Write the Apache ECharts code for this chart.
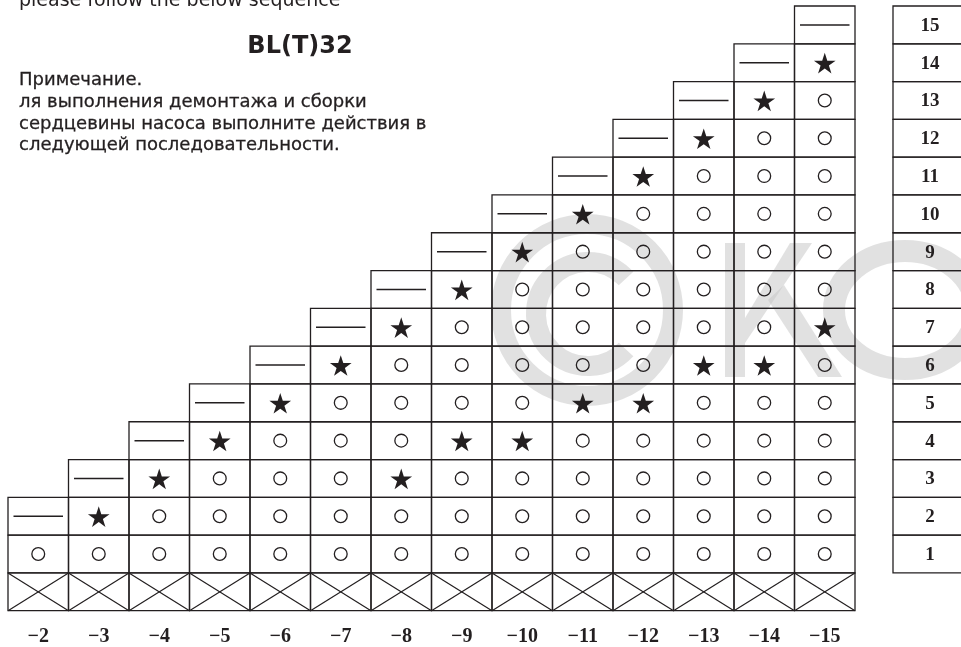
<!DOCTYPE html>
<html>
<head>
<meta charset="utf-8">
<script src="https://cdn.jsdelivr.net/npm/echarts@6/dist/echarts.min.js"></script>
<style>html,body{margin:0;padding:0;background:#fff}#c{width:961px;height:647px}</style>
</head>
<body>
<div id="c"></div>
<script>
// ---- data ----
const columns = ['−2','−3','−4','−5','−6','−7','−8','−9','−10','−11','−12','−13','−14','−15'];
// marks per column, listed from row 1 upward: o = circle, * = star, - = dash
const columnMarks = [
  'o-',
  'o*-',
  'oo*-',
  'ooo*-',
  'oooo*-',
  'ooooo*-',
  'oo*ooo*-',
  'ooo*ooo*-',
  'ooo*oooo*-',
  'oooo*oooo*-',
  'oooo*ooooo*-',
  'ooooo*ooooo*-',
  'ooooo*oooooo*-',
  'oooooo*oooooo*-'
];
const rowLabels = ['1','2','3','4','5','6','7','8','9','10','11','12','13','14','15'];
const headerText = 'please follow the below sequence';
const titleText = 'BL(T)32';
const noteLines = [
  'Примечание.',
  'ля выполнения демонтажа и сборки',
  'сердцевины насоса выполните действия в',
  'следующей последовательности.'
];
const watermarkText = '©KO';

// ---- build series data ----
const cellData = [];
columns.forEach(function (c, i) {
  cellData.push([i, 0, 'x']);
  columnMarks[i].split('').forEach(function (m, j) { cellData.push([i, j + 1, m]); });
});
const labelData = rowLabels.map(function (l, j) { return [0, j + 1, l]; });

const INK = '#231f20';

function starPoints(cx, cy, R) {
  const r = R * 0.382, pts = [];
  for (let k = 0; k < 10; k++) {
    const a = -Math.PI / 2 + k * Math.PI / 5;
    const rad = (k % 2) ? r : R;
    pts.push([cx + rad * Math.cos(a), cy + rad * Math.sin(a)]);
  }
  return pts;
}

function renderCell(params, api) {
  const d = cellData[params.dataIndex];
  const c = api.coord([d[0], d[1]]);
  const s = api.size([1, 1]);
  const w = s[0], h = s[1];
  const x0 = c[0] - w / 2, y0 = c[1] - h / 2;
  const ch = [{
    type: 'rect', shape: { x: x0, y: y0, width: w, height: h },
    style: { fill: null, stroke: INK, lineWidth: 1.3 }
  }];
  const m = d[2];
  if (m === 'x') {
    ch.push({ type: 'line', shape: { x1: x0, y1: y0, x2: x0 + w, y2: y0 + h }, style: { stroke: INK, lineWidth: 1.2 } });
    ch.push({ type: 'line', shape: { x1: x0 + w, y1: y0, x2: x0, y2: y0 + h }, style: { stroke: INK, lineWidth: 1.2 } });
  } else if (m === 'o') {
    ch.push({ type: 'circle', shape: { cx: c[0], cy: c[1], r: 6.4 }, style: { fill: null, stroke: INK, lineWidth: 1.3 } });
  } else if (m === '*') {
    ch.push({ type: 'polygon', shape: { points: starPoints(c[0], c[1] + 1.5, 11.4) }, style: { fill: INK } });
  } else if (m === '-') {
    ch.push({ type: 'line', shape: { x1: x0 + 5.5, y1: c[1], x2: x0 + w - 5.5, y2: c[1] }, style: { stroke: INK, lineWidth: 1.5 } });
  }
  return { type: 'group', children: ch };
}

function renderLabel(params, api) {
  const d = labelData[params.dataIndex];
  const c = api.coord([d[0], d[1]]);
  const s = api.size([1, 1]);
  const w = s[0], h = s[1];
  const x0 = c[0] - w / 2;
  return {
    type: 'group',
    children: [
      { type: 'rect', shape: { x: x0, y: c[1] - h / 2, width: w, height: h },
        style: { fill: null, stroke: INK, lineWidth: 1.3 } },
      { type: 'text', style: { x: x0 + 37, y: c[1] + 1, text: d[2], align: 'center', verticalAlign: 'middle',
        fontFamily: 'Liberation Serif', fontWeight: 'bold', fontSize: 19, fill: INK } }
    ]
  };
}

const WM = 'rgba(200,200,200,0.55)';
const TXT = 'DejaVu Sans';
const chart = echarts.init(document.getElementById('c'), null, { renderer: 'canvas' });
chart.setOption({
  backgroundColor: '#ffffff',
  animation: false,
  grid: [
    { left: 8, top: 6, width: 847, height: 604.7, outerBoundsMode: 'none', containLabel: false },
    { left: 893, top: 6, width: 120, height: 604.7, outerBoundsMode: 'none', containLabel: false }
  ],
  xAxis: [
    { type: 'category', gridIndex: 0, data: columns, boundaryGap: true,
      axisLine: { show: false }, axisTick: { show: false }, splitLine: { show: false },
      axisLabel: { margin: 16, fontFamily: 'Liberation Serif', fontWeight: 'bold', fontSize: 20, color: INK } },
    { type: 'category', gridIndex: 1, data: [''], boundaryGap: true, show: false }
  ],
  yAxis: [
    { type: 'value', gridIndex: 0, min: -0.5, max: 15.5, show: false },
    { type: 'value', gridIndex: 1, min: -0.5, max: 15.5, show: false }
  ],
  series: [
    { type: 'custom', xAxisIndex: 0, yAxisIndex: 0, data: cellData.map(function (d) { return [d[0], d[1]]; }),
      renderItem: renderCell, silent: true, clip: false },
    { type: 'custom', xAxisIndex: 1, yAxisIndex: 1, data: labelData.map(function (d) { return [d[0], d[1]]; }),
      renderItem: renderLabel, silent: true, clip: false }
  ],
  graphic: [
    { type: 'text', left: 19, top: -8, silent: true,
      style: { text: headerText, fontFamily: TXT, fontSize: 19, fill: INK } },
    { type: 'text', x: 300, y: 46.5, silent: true,
      style: { text: titleText, align: 'center', verticalAlign: 'middle', fontFamily: TXT, fontWeight: 'bold', fontSize: 24, fill: INK } },
    { type: 'text', x: 19, y: 80.8, silent: true,
      style: { text: noteLines[0], align: 'left', verticalAlign: 'middle', fontFamily: TXT, fontSize: 18, fill: INK, stroke: INK, lineWidth: 0.3 } },
    { type: 'text', x: 19, y: 102.8, silent: true,
      style: { text: noteLines[1], align: 'left', verticalAlign: 'middle', fontFamily: TXT, fontSize: 18, fill: INK, stroke: INK, lineWidth: 0.3 } },
    { type: 'text', x: 19, y: 124.3, silent: true,
      style: { text: noteLines[2], align: 'left', verticalAlign: 'middle', fontFamily: TXT, fontSize: 18, fill: INK, stroke: INK, lineWidth: 0.3 } },
    { type: 'text', x: 19, y: 145.8, silent: true,
      style: { text: noteLines[3], align: 'left', verticalAlign: 'middle', fontFamily: TXT, fontSize: 18, fill: INK, stroke: INK, lineWidth: 0.3 } },
    // watermark "©KO"
    { type: 'group', z: 100, silent: true, name: watermarkText, children: [
      { type: 'circle', shape: { cx: 587, cy: 310, r: 86 }, style: { fill: null, stroke: WM, lineWidth: 20 } },
      { type: 'arc', shape: { cx: 588, cy: 314, r: 52, startAngle: 0.75, endAngle: 2 * Math.PI - 0.75, clockwise: true },
        style: { fill: null, stroke: WM, lineWidth: 20 } },
      { type: 'line', shape: { x1: 735, y1: 243, x2: 735, y2: 377 }, style: { stroke: WM, lineWidth: 20 } },
      { type: 'polygon', shape: { points: [[745, 318], [790, 243], [812, 243], [745, 343]] }, style: { fill: WM } },
      { type: 'polygon', shape: { points: [[768, 300], [784, 285], [842, 377], [818, 377]] }, style: { fill: WM } },
      { type: 'ellipse', shape: { cx: 905, cy: 310, rx: 71, ry: 59 }, style: { fill: null, stroke: WM, lineWidth: 22 } }
    ] }
  ]
});
</script>
</body>
</html>
